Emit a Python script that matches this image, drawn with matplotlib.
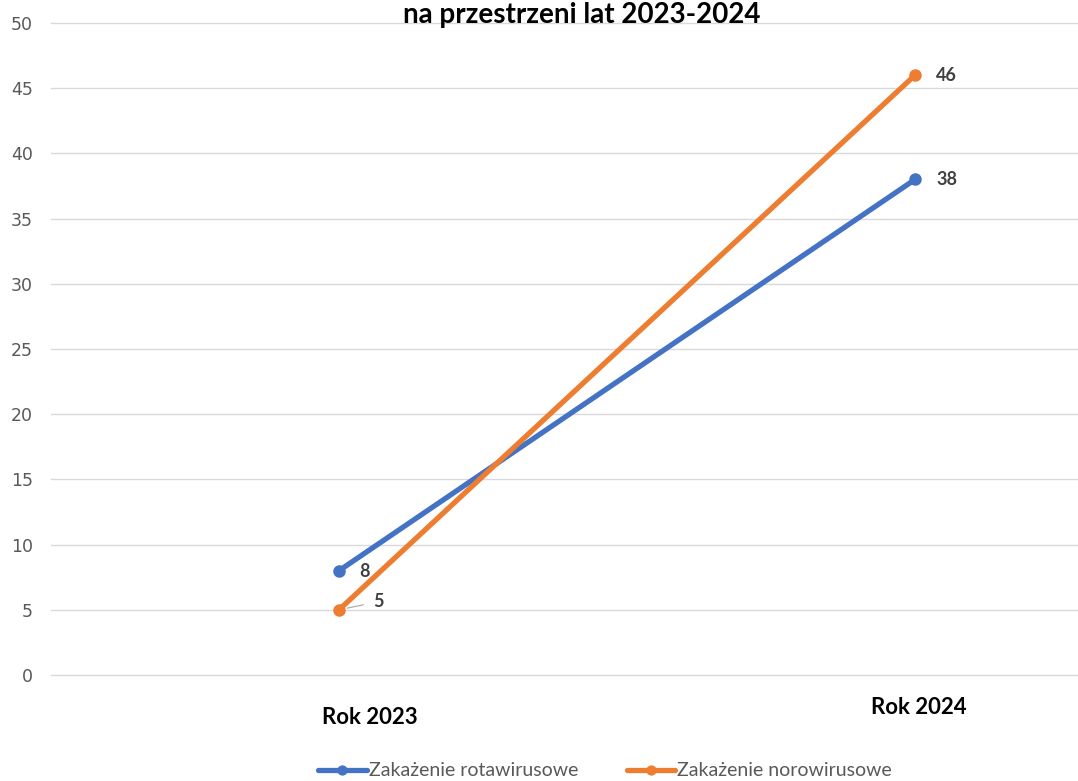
import matplotlib
matplotlib.use("Agg")
import matplotlib.pyplot as plt

categories = ["Rok 2023", "Rok 2024"]
rota = [8, 38]
noro = [5, 46]
series_names = ["Zakażenie rotawirusowe", "Zakażenie norowirusowe"]
yticks = [0, 5, 10, 15, 20, 25, 30, 35, 40, 45, 50]

blue = "#4472C4"
orange = "#ED7D31"
grid_c = "#D9D9D9"
label_c = "#404040"

W, H = 1078, 781
fig = plt.figure(figsize=(W / 100, H / 100), dpi=100)
# plot area spills past the right edge like in the cropped original
ax = fig.add_axes([51 / W, 1 - 675 / H, 1152 / W, 652 / H])

x = list(range(len(categories)))
ax.plot(x, rota, color=blue, lw=3.8, marker="o", ms=8, solid_capstyle="round",
        label=series_names[0], zorder=3)
ax.plot(x, noro, color=orange, lw=3.8, marker="o", ms=8, solid_capstyle="round",
        label=series_names[1], zorder=4)

ax.set_xlim(-0.5, 1.5)
ax.set_ylim(0, 50)
ax.set_yticks(yticks)
ax.set_xticks([])
ax.grid(axis="y", color=grid_c, lw=1)
for gl in ax.get_ygridlines():
    gl.set_clip_on(False)
ax.set_axisbelow(True)
for s in ax.spines.values():
    s.set_visible(False)
ax.tick_params(axis="y", length=0, pad=13, labelsize=12.5, labelcolor="#595959")

# category labels (offsets in pixels, as in the original)
cat_off = [(31, -42), (4, -33)]
for xi, lab, off in zip(x, categories, cat_off):
    ax.annotate(lab, xy=(xi, 0), xycoords=("data", "axes fraction"),
                xytext=off, textcoords="offset pixels", ha="center", va="center",
                fontsize=16, fontweight="bold", family="Lato", color="black")

# data labels
lab_kw = dict(textcoords="offset pixels", ha="left", va="center",
              fontsize=13, fontweight="bold", family="Lato", color=label_c)
ax.annotate(str(rota[0]), xy=(x[0], rota[0]), xytext=(20, -1), **lab_kw)
ax.annotate(str(rota[1]), xy=(x[1], rota[1]), xytext=(21, 0), **lab_kw)
ax.annotate(str(noro[1]), xy=(x[1], noro[1]), xytext=(21, 0), **lab_kw)
ax.annotate(str(noro[0]), xy=(x[0], noro[0]), xytext=(34, 8),
            arrowprops=dict(arrowstyle="-", color="#A6A6A6", lw=0.8,
                            shrinkA=5, shrinkB=6), **lab_kw)

fig.text(582 / W, 1 - 15 / H, "na przestrzeni lat 2023-2024", ha="center",
         va="center", fontsize=20, fontweight="bold", family="Lato", color="black")

leg = fig.legend(loc="center", bbox_to_anchor=(605 / W, 1 - 771 / H), ncol=2,
                 frameon=False, fontsize=14, handlelength=2.5, handletextpad=0.1,
                 columnspacing=2.5, markerscale=0.8)
for t in leg.get_texts():
    t.set_color("#595959")
    t.set_fontfamily("Lato")

fig.savefig("out.png", dpi=100)
